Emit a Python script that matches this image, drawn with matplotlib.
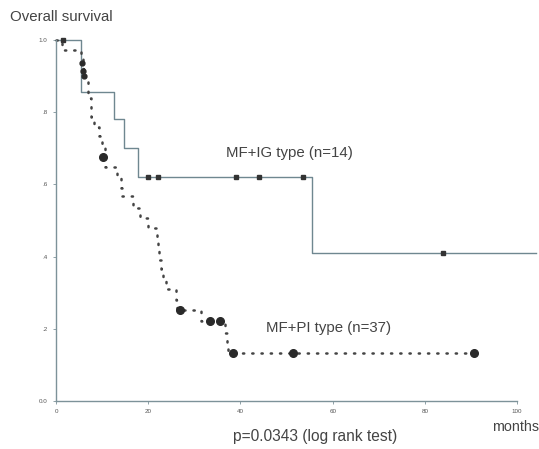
import matplotlib
matplotlib.use("Agg")
import matplotlib.pyplot as plt

plt.rcParams['font.family'] = ['Liberation Sans', 'DejaVu Sans']

# MF+IG type (n=14): step times (months) and survival levels
ig_times = [0, 5.4, 12.5, 14.7, 17.7, 55.6, 104]
ig_surv = [1.0, 0.855, 0.78, 0.70, 0.62, 0.41, 0.41]
ig_cens_t = [1.5, 20.0, 22.2, 39.0, 44.0, 53.5, 84.0]
ig_cens_s = [1.0, 0.62, 0.62, 0.62, 0.62, 0.62, 0.41]

# MF+PI type (n=37)
pi_times = [0, 1.3, 5.4, 5.8, 6.3, 6.9, 7.6, 8.2, 9.3, 10.0, 10.6, 13.2, 14.0, 14.4,
            16.8, 18.3, 20.0, 21.9, 22.2, 22.4, 22.7, 23.1, 23.8, 26.0, 26.3,
            31.5, 36.6, 37.0, 37.4, 90.7]
pi_surv = [1.0, 0.973, 0.946, 0.919, 0.89, 0.84, 0.786, 0.758, 0.733, 0.70, 0.647, 0.619, 0.59, 0.567,
           0.536, 0.508, 0.48, 0.45, 0.42, 0.39, 0.365, 0.339, 0.311, 0.28, 0.253,
           0.222, 0.189, 0.163, 0.133, 0.133]
pi_cens_t = [10.1, 26.8, 33.3, 35.5, 38.3, 51.3, 90.7]
pi_cens_s = [0.675, 0.253, 0.222, 0.222, 0.133, 0.133, 0.133]
pi_small_cens_t = [5.7, 5.9, 6.1]
pi_small_cens_s = [0.935, 0.915, 0.90]

xticks = [0, 20, 40, 60, 80, 100]
xticklabels = ["0", "20", "40", "60", "80", "100"]
yticks = [0.0, 0.2, 0.4, 0.6, 0.8, 1.0]
yticklabels = ["0.0", ".2", ".4", ".6", ".8", "1.0"]

W, H = 539, 449
fig = plt.figure(figsize=(W / 100, H / 100), dpi=100)
left_px, right_px, top_px, bottom_px = 56, 535.5, 40, 401
ax = fig.add_axes([left_px / W, 1 - bottom_px / H, (right_px - left_px) / W, (bottom_px - top_px) / H])

spine_col = '#7d9299'
ig_col = '#6f8790'
pi_col = '#444444'
txt_col = '#444444'

ax.step(ig_times, ig_surv, where='post', color=ig_col, lw=1.0, clip_on=False)
ax.plot(ig_cens_t, ig_cens_s, 's', color='#333333', ms=3.5, clip_on=False)

ax.step(pi_times, pi_surv, where='post', color=pi_col, lw=1.8, linestyle=(0, (0.5, 3.2)),
        dash_capstyle='round', clip_on=False)
ax.plot(pi_cens_t, pi_cens_s, 'o', color='#2a2a2a', ms=5.5, clip_on=False)
ax.plot(pi_small_cens_t, pi_small_cens_s, 'o', color='#2a2a2a', ms=3.5, clip_on=False)

ax.set_xlim(0, 104)
ax.set_ylim(0, 1.0)
ax.spines['top'].set_visible(False)
ax.spines['right'].set_visible(False)
ax.spines['bottom'].set_bounds(0, 100)
for s in ('left', 'bottom'):
    ax.spines[s].set_color(spine_col)
    ax.spines[s].set_linewidth(1.0)

ax.set_xticks(xticks)
ax.set_xticklabels(xticklabels)
ax.set_yticks(yticks)
ax.set_yticklabels(yticklabels)
ax.tick_params(axis='both', labelsize=4.5, labelcolor='#555555', color=spine_col,
               length=2, width=0.6, pad=4)

fig.text(10 / W, 1 - 17 / H, "Overall survival", fontsize=10.8, color=txt_col,
         ha='left', va='center')
fig.text(226 / W, 1 - 153 / H, "MF+IG type (n=14)", fontsize=10.8, color=txt_col,
         ha='left', va='center')
fig.text(266 / W, 1 - 328 / H, "MF+PI type (n=37)", fontsize=10.8, color=txt_col,
         ha='left', va='center')
fig.text(315 / W, 1 - 437 / H, "p=0.0343 (log rank test)", fontsize=11.2, color=txt_col,
         ha='center', va='center')
fig.text(492 / W, 1 - 427 / H, "months", fontsize=10.3, color=txt_col,
         ha='left', va='center')

fig.savefig("out.png", dpi=100)
